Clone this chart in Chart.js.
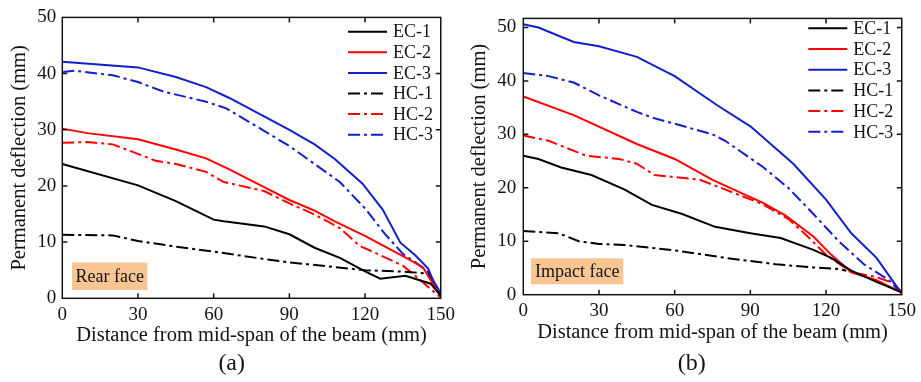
<!DOCTYPE html>
<html>
<head>
<meta charset="utf-8">
<script src="https://cdn.jsdelivr.net/npm/chart.js@4.4.1/dist/chart.umd.min.js"></script>
<style>
  html, body { margin: 0; padding: 0; background: #fff; }
  #wrap { position: relative; width: 921px; height: 382px; overflow: hidden; }
  #wrap canvas { position: absolute; top: 0; }
</style>
</head>
<body>
<div id="wrap">
  <canvas id="rear" width="460" height="382" style="left:0"></canvas>
  <canvas id="impact" width="461" height="382" style="left:460px"></canvas>
</div>
<script>
/* ── Data ──────────────────────────────────────────── */
const seriesNames = ['EC-1', 'EC-2', 'EC-3', 'HC-1', 'HC-2', 'HC-3'];
const xTicks = [0, 30, 60, 90, 120, 150];
const yTicks = [0, 10, 20, 30, 40, 50];

// (a) Rear face
const rearEC1X = [0, 30, 45, 60, 64, 80, 90, 100, 110, 120, 126, 136, 146, 150];
const rearEC1Y = [23.9, 20.1, 17.3, 14.0, 13.7, 12.8, 11.4, 9.0, 7.2, 4.8, 3.5, 4.0, 2.6, 0.5];
const rearEC2X = [0, 10, 30, 45, 57, 66, 80, 90, 100, 108, 120, 137, 143, 150];
const rearEC2Y = [30.2, 29.4, 28.3, 26.5, 24.9, 23.0, 19.8, 17.5, 15.6, 13.7, 11.1, 7.0, 5.5, 0.3];
const rearEC3X = [0, 30, 45, 57, 66, 80, 90, 100, 108, 119, 127, 134, 140, 145, 147, 150];
const rearEC3Y = [42.1, 41.1, 39.4, 37.6, 35.7, 32.4, 30.0, 27.4, 24.8, 20.4, 15.8, 9.9, 7.6, 5.3, 3.2, 0.9];
const rearHC1X = [0, 20, 30, 45, 60, 80, 90, 105, 120, 137, 145, 150];
const rearHC1Y = [11.3, 11.2, 10.2, 9.2, 8.3, 7.0, 6.4, 5.7, 5.0, 4.7, 4.4, 0.8];
const rearHC2X = [0, 10, 20, 30, 37, 45, 57, 64, 80, 90, 100, 110, 118, 125, 135, 142, 150];
const rearHC2Y = [27.7, 27.8, 27.4, 25.7, 24.5, 23.9, 22.5, 20.7, 19.1, 16.9, 14.9, 12.5, 9.3, 7.9, 5.8, 3.2, 0.1];
const rearHC3X = [0, 5, 20, 30, 40, 57, 65, 80, 90, 100, 110, 120, 128, 135, 140, 145, 150];
const rearHC3Y = [40.3, 40.5, 39.7, 38.5, 36.8, 35.0, 33.8, 29.8, 27.1, 23.9, 20.7, 16.0, 11.4, 7.9, 6.4, 4.7, 0.3];

// (b) Impact face
const impEC1X = [0, 6, 15, 27, 40, 51, 63, 76, 90, 102, 115, 122, 130, 140, 148, 150];
const impEC1Y = [26.0, 25.4, 23.8, 22.4, 19.7, 16.8, 15.1, 12.7, 11.5, 10.6, 8.4, 6.9, 4.5, 2.4, 0.8, 0.5];
const impEC2X = [0, 20, 45, 60, 75, 95, 104, 115, 122, 130, 140, 150];
const impEC2Y = [37.1, 33.6, 28.2, 25.4, 21.5, 17.2, 14.8, 10.9, 7.5, 4.2, 2.7, 0.4];
const impEC3X = [0, 6, 20, 30, 45, 60, 77, 90, 107, 120, 130, 140, 150];
const impEC3Y = [50.6, 50.0, 47.3, 46.5, 44.5, 40.9, 35.4, 31.5, 24.5, 17.8, 11.5, 6.9, 0.2];
const impHC1X = [0, 14, 22, 30, 40, 60, 80, 100, 115, 125, 128];
const impHC1Y = [11.9, 11.5, 10.0, 9.5, 9.3, 8.3, 6.9, 5.7, 5.1, 4.8, 4.5];
const impHC2X = [0, 10, 25, 38, 45, 52, 60, 70, 80, 95, 105, 112, 120, 130, 140, 147, 150];
const impHC2Y = [29.8, 28.8, 26.0, 25.4, 24.5, 22.4, 22.0, 21.5, 19.7, 16.9, 14.2, 11.2, 7.5, 4.2, 3.3, 2.1, 0.4];
const impHC3X = [0, 10, 20, 30, 45, 52, 60, 75, 80, 95, 105, 115, 125, 135, 145, 150];
const impHC3Y = [41.5, 40.9, 39.7, 37.3, 34.2, 33.0, 32.0, 30.0, 28.8, 23.9, 20.0, 15.1, 10.0, 5.7, 2.7, 0.2];

/* ── Styles ─────────────────────────────────────────── */
const FONT = "'Liberation Serif', 'Times New Roman', serif";
const INK = '#141414';
const colors = ['#000000', '#ff0000', '#1020cc', '#000000', '#ff0000', '#1020cc'];
const dashes = [[], [], [], [12, 4, 3, 4], [12, 4, 3, 4], [12, 4, 3, 4]];

const pts = (xs, ys) => xs.map((x, i) => ({ x, y: ys[i] }));

function makeDatasets(list) {
  return list.map(([xs, ys], i) => ({
    label: seriesNames[i],
    data: pts(xs, ys),
    borderColor: colors[i],
    borderDash: dashes[i],
    borderWidth: 2,
    pointRadius: 0,
    tension: 0,
    fill: false
  }));
}

/* ── Frame, inward ticks, legend, label box, panel letter ── */
const framePlugin = {
  id: 'frame',
  afterDatasetsDraw(chart, args, o) {
    const { ctx, chartArea: a, scales: { x, y } } = chart;
    ctx.save();
    ctx.strokeStyle = INK;
    ctx.lineWidth = 1.5;
    ctx.setLineDash([]);
    ctx.strokeRect(a.left, a.top, a.right - a.left, a.bottom - a.top);
    ctx.beginPath();
    x.ticks.forEach(t => {
      if (t.value <= x.min || t.value >= x.max) return;
      const px = x.getPixelForValue(t.value);
      ctx.moveTo(px, a.bottom); ctx.lineTo(px, a.bottom - 5);
      ctx.moveTo(px, a.top); ctx.lineTo(px, a.top + 5);
    });
    y.ticks.forEach(t => {
      if (t.value <= y.min || t.value >= y.max) return;
      const py = y.getPixelForValue(t.value);
      ctx.moveTo(a.left, py); ctx.lineTo(a.left + 5, py);
      ctx.moveTo(a.right, py); ctx.lineTo(a.right - 5, py);
    });
    ctx.stroke();

    // legend
    ctx.font = `18px ${FONT}`;
    ctx.textBaseline = 'middle';
    ctx.textAlign = 'left';
    chart.data.datasets.forEach((ds, i) => {
      const ly = o.legendY + i * o.legendGap;
      ctx.strokeStyle = ds.borderColor;
      ctx.lineWidth = 2;
      ctx.setLineDash(ds.borderDash);
      ctx.beginPath();
      ctx.moveTo(o.legendX, ly);
      ctx.lineTo(o.legendX + 39, ly);
      ctx.stroke();
      ctx.fillStyle = INK;
      ctx.fillText(ds.label, o.legendX + 45, ly + 1);
    });

    // face label box
    const b = o.box;
    ctx.fillStyle = '#f9c593';
    ctx.fillRect(b.x, b.y, b.w, b.h);
    ctx.fillStyle = INK;
    ctx.textAlign = 'center';
    ctx.fillText(b.text, b.x + b.w / 2, b.y + b.h / 2 + 1);

    // panel letter
    ctx.font = `24px ${FONT}`;
    ctx.fillText(o.letter, o.letterX, 364);
    ctx.restore();
  }
};

function makeChart(id, datasets, geo, yMax, frameOpts) {
  const cv = document.getElementById(id);
  return new Chart(cv, {
    type: 'line',
    data: { datasets },
    plugins: [framePlugin],
    options: {
      responsive: false,
      animation: false,
      layout: { padding: { left: 0, top: geo.top, right: cv.width - geo.right, bottom: 0 } },
      plugins: { legend: { display: false }, tooltip: { enabled: false }, frame: frameOpts },
      scales: {
        x: {
          type: 'linear', min: 0, max: 150,
          grid: { display: false, drawTicks: false },
          border: { display: false },
          afterBuildTicks: s => { s.ticks = xTicks.map(v => ({ value: v })); },
          afterFit: s => { s.height = cv.height - geo.bottom; },
          ticks: { color: INK, font: { family: FONT, size: 19 }, padding: 5, maxRotation: 0 },
          title: { display: true, text: 'Distance from mid-span of the beam (mm)', color: INK,
                   font: { family: FONT, size: 20.5 }, padding: { top: 0, bottom: geo.xTitlePad } }
        },
        y: {
          type: 'linear', min: 0, max: yMax,
          grid: { display: false, drawTicks: false },
          border: { display: false },
          afterBuildTicks: s => { s.ticks = yTicks.map(v => ({ value: v })); },
          afterFit: s => { s.width = geo.left; },
          ticks: { color: INK, font: { family: FONT, size: 19 }, padding: geo.yTickPad },
          title: { display: true, text: 'Permanent deflection (mm)', color: INK,
                   font: { family: FONT, size: 20.5 }, padding: { top: geo.yTitlePad, bottom: 0 } }
        }
      }
    }
  });
}

makeChart('rear', makeDatasets([
  [rearEC1X, rearEC1Y], [rearEC2X, rearEC2Y], [rearEC3X, rearEC3Y],
  [rearHC1X, rearHC1Y], [rearHC2X, rearHC2Y], [rearHC3X, rearHC3Y]
]), { left: 62.3, right: 445.7, top: 12.7, bottom: 298.3, xTitlePad: 34.5, yTitlePad: 7.5, yTickPad: 6 }, 50,
  { legendX: 348, legendY: 31.7, legendGap: 20.6, letter: '(a)', letterX: 231.7,
    box: { x: 72, y: 262.5, w: 75.5, h: 27.5, text: 'Rear face' } });

makeChart('impact', makeDatasets([
  [impEC1X, impEC1Y], [impEC2X, impEC2Y], [impEC3X, impEC3Y],
  [impHC1X, impHC1Y], [impHC2X, impHC2Y], [impHC3X, impHC3Y]
]), { left: 63.3, right: 445.7, top: 10.7, bottom: 294.7, xTitlePad: 37.5, yTitlePad: 7.5, yTickPad: 7 }, 51.7,
  { legendX: 348.3, legendY: 28.3, legendGap: 20.7, letter: '(b)', letterX: 231.7,
    box: { x: 71, y: 258.3, w: 92.3, h: 26, text: 'Impact face' } });
</script>
</body>
</html>
